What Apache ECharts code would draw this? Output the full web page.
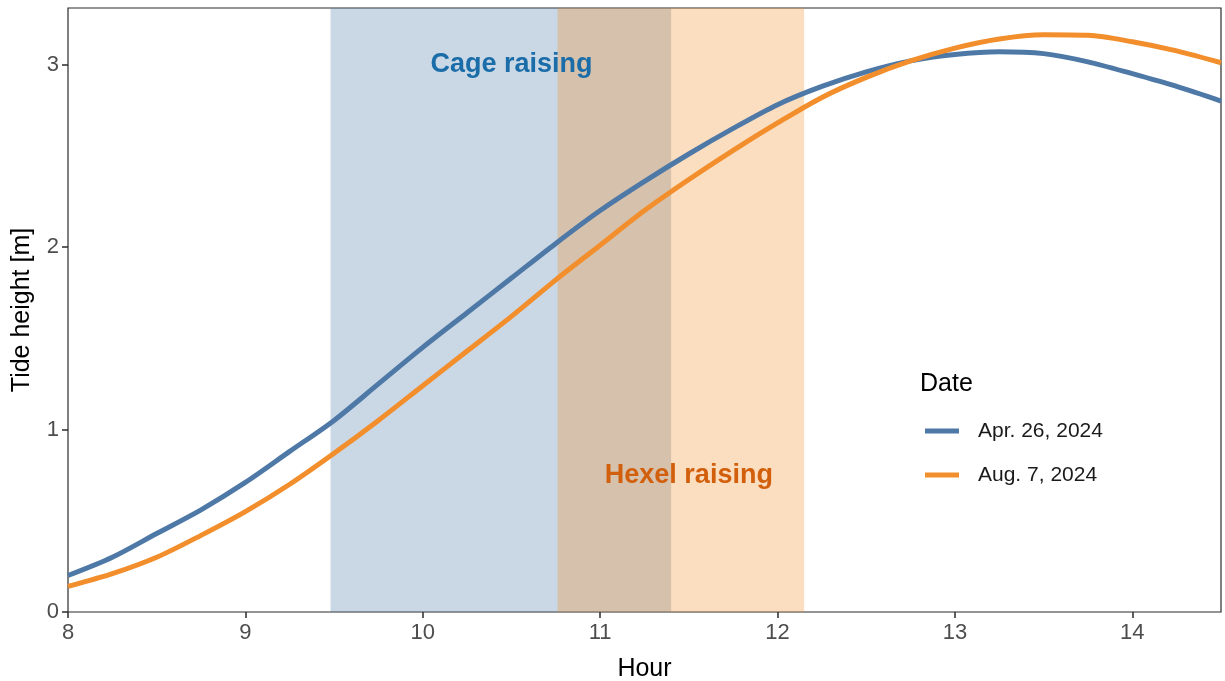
<!DOCTYPE html>
<html>
<head>
<meta charset="utf-8">
<script src="https://cdn.jsdelivr.net/npm/echarts@6/dist/echarts.min.js"></script>
<style>
  html, body { margin: 0; padding: 0; background: #ffffff; }
  #chart { width: 1225px; height: 681px; }
</style>
</head>
<body>
<div id="chart"></div>
<script>
// Hour of day (x) and predicted tide height in metres for each date
const hours   = [8, 8.25, 8.5, 8.75, 9, 9.25, 9.5, 9.75, 10, 10.25, 10.5, 10.75, 11, 11.25,
                 11.5, 11.75, 12, 12.25, 12.5, 12.75, 13, 13.25, 13.5, 13.75, 14, 14.25, 14.5];
const tideApr = [0.20, 0.30, 0.43, 0.56, 0.71, 0.88, 1.05, 1.25, 1.45, 1.64, 1.83, 2.02, 2.20, 2.36,
                 2.51, 2.65, 2.78, 2.88, 2.96, 3.02, 3.055, 3.07, 3.06, 3.015, 2.95, 2.88, 2.80];
const tideAug = [0.14, 0.21, 0.30, 0.42, 0.55, 0.70, 0.87, 1.05, 1.24, 1.43, 1.62, 1.82, 2.01, 2.20,
                 2.37, 2.53, 2.68, 2.82, 2.93, 3.02, 3.09, 3.14, 3.163, 3.16, 3.125, 3.075, 3.01];
const seriesNames = ['Apr. 26, 2024', 'Aug. 7, 2024'];

// Operation windows (start hour, end hour)
const cageWindow  = [9.48, 11.40];
const hexelWindow = [10.76, 12.15];

// Window annotations: [hour, height, text]
const annotations = [
  [10.5, 3.0, 'Cage raising'],
  [11.5, 0.75, 'Hexel raising']
];
const annotationColors = ['#1A6DA8', '#D25F0C'];

const xTicks = [8, 9, 10, 11, 12, 13, 14];
const yTicks = [0, 1, 2, 3];

const BLUE = '#4E79A7';
const ORANGE = '#F28E2B';
const FONT = '"Liberation Sans", Arial, sans-serif';

const chart = echarts.init(document.getElementById('chart'), null, { renderer: 'canvas' });

const toPairs = (xs, ys) => xs.map((x, i) => [x, ys[i]]);

const tideLine = (name, ys, color) => ({
  name, type: 'line', z: 3,
  data: toPairs(hours, ys),
  smooth: 0.3, showSymbol: false, symbol: 'none',
  lineStyle: { color, width: 5 }, itemStyle: { color }
});

const option = {
  backgroundColor: '#ffffff',
  animation: false,
  textStyle: { fontFamily: FONT },
  grid: {
    left: 68, right: 4, top: 8, bottom: 69,
    outerBoundsMode: 'none', containLabel: false,
    show: true, borderColor: '#2b2b2b', borderWidth: 1.2, backgroundColor: 'transparent'
  },
  xAxis: {
    type: 'value', min: 8, max: 14.5,
    name: 'Hour', nameLocation: 'middle', nameGap: 45,
    nameTextStyle: { fontSize: 25, color: '#000000', fontFamily: FONT },
    axisLine: { show: false },
    axisTick: { show: true, inside: false, length: 6, lineStyle: { color: '#2b2b2b', width: 1.5 }, customValues: xTicks },
    axisLabel: { fontSize: 22, color: '#4D4D4D', margin: 10, fontFamily: FONT, customValues: xTicks },
    splitLine: { show: false }
  },
  yAxis: {
    type: 'value', min: 0, max: 3.31,
    name: 'Tide height [m]', nameLocation: 'middle', nameGap: 33,
    nameTextStyle: { fontSize: 25, color: '#000000', fontFamily: FONT },
    axisLine: { show: false },
    axisTick: { show: true, inside: false, length: 6, lineStyle: { color: '#2b2b2b', width: 1.5 }, customValues: yTicks },
    axisLabel: { fontSize: 22, color: '#4D4D4D', margin: 9, fontFamily: FONT, customValues: yTicks },
    splitLine: { show: false }
  },
  legend: {
    data: seriesNames,
    orient: 'vertical',
    left: 925, top: 418, padding: 0,
    icon: 'rect', itemWidth: 34, itemHeight: 5, itemGap: 18,
    textStyle: { fontSize: 21, color: '#1A1A1A', lineHeight: 26, fontFamily: FONT, padding: [0, 0, 0, 14] }
  },
  series: [
    {
      name: 'cageWindow', type: 'line', data: [], z: 1, silent: true,
      markArea: {
        silent: true,
        itemStyle: { color: 'rgba(78,121,167,0.3)' },
        data: [[{ xAxis: cageWindow[0] }, { xAxis: cageWindow[1] }]]
      }
    },
    {
      name: 'hexelWindow', type: 'line', data: [], z: 1, silent: true,
      markArea: {
        silent: true,
        itemStyle: { color: 'rgba(242,142,43,0.3)' },
        data: [[{ xAxis: hexelWindow[0] }, { xAxis: hexelWindow[1] }]]
      }
    },
    tideLine(seriesNames[0], tideApr, BLUE),
    tideLine(seriesNames[1], tideAug, ORANGE)
  ]
};

chart.setOption(option);

// Legend title and window annotations, placed through the grid's coordinate system
const graphics = [{
  type: 'text', left: 920, top: 372, z: 10,
  style: { text: 'Date', fontSize: 25, fill: '#000000', fontFamily: FONT }
}];
annotations.forEach((a, i) => {
  const p = chart.convertToPixel({ gridIndex: 0 }, [a[0], a[1]]);
  graphics.push({
    type: 'text', x: p[0], y: p[1], z: 10, silent: true,
    style: {
      text: a[2], fontSize: 27, fontWeight: 'bold', fontFamily: FONT,
      fill: annotationColors[i], align: 'center', verticalAlign: 'middle'
    }
  });
});
chart.setOption({ graphic: graphics });
</script>
</body>
</html>
